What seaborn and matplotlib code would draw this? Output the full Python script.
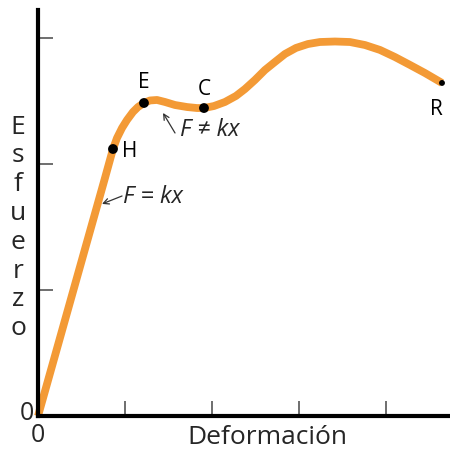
import numpy as np
import pandas as pd
import matplotlib
matplotlib.use("Agg")
import matplotlib.pyplot as plt
import matplotlib.transforms as mtransforms
import seaborn as sns

# curve (deformation, stress)
deformacion = [0.0, 0.770, 0.862, 0.908, 0.966, 1.023, 1.092, 1.149, 1.218,
               1.287, 1.368, 1.460, 1.575, 1.713, 1.828, 1.908, 2.023, 2.149, 2.276,
               2.379, 2.494, 2.609, 2.724, 2.839, 2.966, 3.103, 3.241, 3.414, 3.586,
               3.759, 3.931, 4.103, 4.276, 4.448, 4.644]
esfuerzo = [0.0, 1.889, 2.119, 2.206, 2.286, 2.349, 2.413, 2.452, 2.484,
            2.504, 2.508, 2.492, 2.468, 2.452, 2.444, 2.444, 2.460, 2.492, 2.540,
            2.595, 2.667, 2.746, 2.810, 2.873, 2.921, 2.952, 2.968, 2.972, 2.968,
            2.944, 2.905, 2.849, 2.786, 2.722, 2.643]

# labelled points
puntos = ["H", "E", "C", "R"]
puntos_x = [0.862, 1.218, 1.908, 4.644]
puntos_y = [2.119, 2.484, 2.444, 2.643]

x_ticks = [0, 1, 2, 3, 4]
y_ticks = [0, 1, 2, 3]

df = pd.DataFrame({"x": deformacion, "y": esfuerzo})
df_p = pd.DataFrame({"punto": puntos, "x": puntos_x, "y": puntos_y})

sns.set_style("white")
plt.rcParams["font.family"] = ["Open Sans", "DejaVu Sans"]

fig = plt.figure(figsize=(4.5, 4.5), dpi=100)
ax = fig.add_axes([38 / 450, 34 / 450, 412 / 450, 406 / 450])

orange = "#F39A36"
sns.lineplot(data=df, x="x", y="y", sort=False, color=orange, linewidth=5.6,
             solid_capstyle="butt", solid_joinstyle="round", ax=ax, clip_on=False, zorder=2)

big = df_p[df_p["punto"] != "R"]
small = df_p[df_p["punto"] == "R"]
sns.scatterplot(data=big, x="x", y="y", color="black", s=50, edgecolor="none", ax=ax, zorder=3)
sns.scatterplot(data=small, x="x", y="y", color="black", s=18, edgecolor="none", ax=ax, zorder=3)

# point labels
offsets = {"H": (0.10, -0.02), "E": (0.0, 0.16), "C": (0.0, 0.15), "R": (-0.07, -0.21)}
for _, r in df_p.iterrows():
    dx, dy = offsets[r["punto"]]
    ax.text(r["x"] + dx, r["y"] + dy, r["punto"], fontsize=15, ha="left" if r["punto"] == "H" else "center",
            va="center", color="black")

# annotations
ax.text(0.98, 1.74, "F = kx", fontsize=17, style="italic", va="center", ha="left")
ax.annotate("", xy=(0.736, 1.683), xytext=(0.966, 1.746),
            arrowprops=dict(arrowstyle="->", color="#333333", lw=0.9, shrinkA=0, shrinkB=0))
ax.text(1.63, 2.27, "F ≠ kx", fontsize=17, style="italic", va="center", ha="left")
ax.annotate("", xy=(1.437, 2.405), xytext=(1.575, 2.246),
            arrowprops=dict(arrowstyle="->", color="#333333", lw=0.9, shrinkA=0, shrinkB=0))

ax.set_xlim(0, 4.736)
ax.set_ylim(0, 3.222)
ax.set_xticks(x_ticks, ["0", "", "", "", ""])
ax.set_yticks(y_ticks, ["0", "", "", ""])
ax.tick_params(bottom=True, left=True, direction="in", length=11, width=1.2,
               color="#555555", labelsize=18)
ax.tick_params(axis="x", pad=5)
ax.tick_params(axis="y", pad=3)
for lbl in ax.get_yticklabels():
    lbl.set_transform(lbl.get_transform() + mtransforms.ScaledTranslation(0, 4 / 72, fig.dpi_scale_trans))

for side in ["top", "right"]:
    ax.spines[side].set_visible(False)
for side in ["left", "bottom"]:
    ax.spines[side].set_linewidth(3)
    ax.spines[side].set_color("black")

ax.set_xlabel("")
ax.set_ylabel("")
fig.text(267 / 450, 1 - 437 / 450, "Deformación", fontsize=19, ha="center", va="center")
fig.text(18 / 450, 1 - 228 / 450, "\n".join("Esfuerzo"), fontsize=19, ha="center", va="center",
         linespacing=1.2)

fig.savefig("out.png", dpi=100)
